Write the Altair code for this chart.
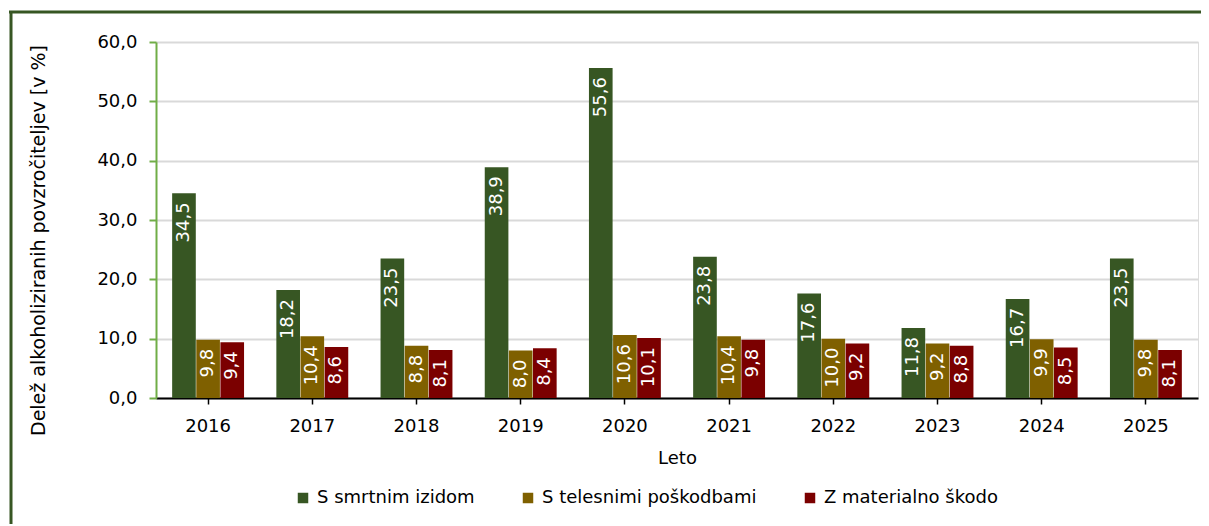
import altair as alt
import pandas as pd

years = ["2016", "2017", "2018", "2019", "2020", "2021", "2022", "2023", "2024", "2025"]
series = ["S smrtnim izidom", "S telesnimi poškodbami", "Z materialno škodo"]
smrtni = [34.5, 18.2, 23.5, 38.9, 55.6, 23.8, 17.6, 11.8, 16.7, 23.5]
telesne = [9.8, 10.4, 8.8, 8.0, 10.6, 10.4, 10.0, 9.2, 9.9, 9.8]
materialna = [9.4, 8.6, 8.1, 8.4, 10.1, 9.8, 9.2, 8.8, 8.5, 8.1]
colors = ["#375623", "#7F6000", "#7B0000"]

rows = []
for name, vals in zip(series, [smrtni, telesne, materialna]):
    for y, v in zip(years, vals):
        rows.append({"Leto": y, "Serija": name, "Vrednost": v})
df = pd.DataFrame(rows)

FONT = "DejaVu Sans"

base = alt.Chart(df).encode(
    x=alt.X("Leto:N", sort=years,
            scale=alt.Scale(paddingInner=0.31, paddingOuter=0.155),
            axis=alt.Axis(title="Leto", labelAngle=0, labelFontSize=18, titleFontSize=18,
                          labelFont=FONT, titleFont=FONT, labelColor="#000000",
                          titleColor="#000000", titleFontWeight="normal",
                          domainColor="#000000", domainWidth=2, tickColor="#000000",
                          tickSize=6, tickWidth=1.5, labelPadding=13, titlePadding=14,
                          grid=False)),
    xOffset=alt.XOffset("Serija:N", sort=series, scale=alt.Scale(paddingInner=0.02)),
)

bars = base.mark_bar().encode(
    y=alt.Y("Vrednost:Q",
            scale=alt.Scale(domain=[0, 60], nice=False),
            axis=alt.Axis(title="Delež alkoholiziranih povzročiteljev [v %]",
                          values=[0, 10, 20, 30, 40, 50, 60],
                          labelExpr="replace(format(datum.value, '.1f'), '.', ',')",
                          labelFontSize=18, titleFontSize=19, labelFont=FONT, titleFont=FONT,
                          labelColor="#000000", titleColor="#000000", titleFontWeight="normal",
                          domainColor="#70AD47", domainWidth=2, tickColor="#70AD47",
                          tickWidth=2, tickSize=7, labelPadding=12,
                          gridColor="#D9D9D9", gridWidth=2,
                          titleX=-108, titleY=198, titleAngle=270)),
    color=alt.Color("Serija:N", sort=series,
                    scale=alt.Scale(domain=series, range=colors),
                    legend=alt.Legend(title=None, orient="none", direction="horizontal",
                                      legendX=138, legendY=447, symbolType="square",
                                      symbolSize=110, symbolStrokeWidth=0,
                                      labelFontSize=18, labelFont=FONT, labelColor="#000000",
                                      labelLimit=0,
                                      columnPadding=44, symbolOffset=0, labelOffset=5,
                                      padding=0)),
)

labels = base.transform_calculate(
    lab="replace(format(datum.Vrednost, '.1f'), '.', ',')"
).mark_text(angle=270, align="right", baseline="middle", dx=-9, color="#FFFFFF",
            fontSize=18, font=FONT).encode(
    y=alt.Y("Vrednost:Q"),
    text="lab:N",
)

frame_top = alt.Chart(alt.Data(values=[{}])).mark_rule(
    stroke="#375623", strokeWidth=3
).encode(
    x=alt.value(-147), x2=alt.value(1060), y=alt.value(-30)
)
frame_left = alt.Chart(alt.Data(values=[{}])).mark_rule(
    stroke="#375623", strokeWidth=3
).encode(
    x=alt.value(-145), y=alt.value(-31), y2=alt.value(560)
)

chart = alt.layer(frame_top, frame_left, bars, labels).properties(
    width=1042, height=356,
    autosize=alt.AutoSizeParams(type="none"),
    padding={"left": 148, "top": 34, "right": 3, "bottom": 126},
).configure_view(stroke=None).configure(background="#FFFFFF")

chart.save("out.html", embed_options={"renderer": "svg", "actions": False})
